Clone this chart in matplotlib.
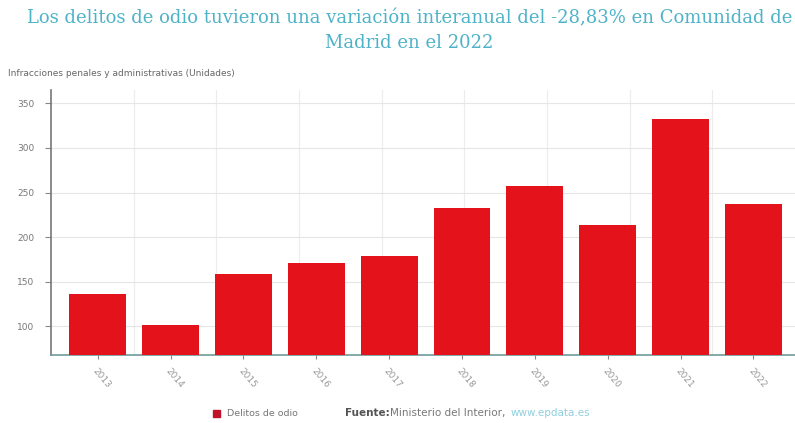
import matplotlib
matplotlib.use("Agg")
import matplotlib.pyplot as plt
import numpy as np

years = ["2013", "2014", "2015", "2016", "2017", "2018", "2019", "2020", "2021", "2022"]
values = [136, 102, 159, 171, 179, 233, 257, 214, 333, 237]
yticks = [100, 150, 200, 250, 300, 350]
series_name = "Delitos de odio"
title = "Los delitos de odio tuvieron una variación interanual del -28,83% en Comunidad de\nMadrid en el 2022"
ylabel = "Infracciones penales y administrativas (Unidades)"

plt.rcParams['font.family'] = ['DejaVu Sans']
fig = plt.figure(figsize=(7.95, 4.23), dpi=100)
ax = fig.add_axes([51/795, 68/423, 744/795, 265/423])

x = np.arange(len(years))
ax.bar(x, values, width=0.78, color="#e3121b", zorder=3)
ax.set_xlim(-0.64, 9.57)
ax.set_ylim(68, 365)
ax.set_yticks(yticks)
ax.set_yticklabels([str(v) for v in yticks], fontsize=6.5, color="#777777")
ax.set_xticks(x)
ax.set_xticklabels(years, rotation=-50, ha="left", va="top", fontsize=6.5, color="#999999",
                   rotation_mode="anchor")
ax.tick_params(axis="x", length=3, color="#888888", pad=5)
ax.tick_params(axis="y", length=4, color="#888888", pad=8)

ax.grid(axis="y", color="#e6e6e6", linewidth=0.8, zorder=0)
for f in np.linspace(0, 1, 10)[1:-1]:
    ax.axvline(f * (ax.get_xlim()[1] - ax.get_xlim()[0]) + ax.get_xlim()[0],
               color="#ececec", linewidth=0.8, zorder=0)

for s in ["top", "right"]:
    ax.spines[s].set_visible(False)
ax.spines["left"].set_color("#777777")
ax.spines["left"].set_linewidth(1.2)
ax.spines["bottom"].set_color("#6f9a9a")
ax.spines["bottom"].set_linewidth(1.2)

fig.text(0.515, 0.978, title, ha="center", va="top", fontsize=13, color="#4fb3c8",
         family="DejaVu Serif", linespacing=1.45)
fig.text(8/795, 1 - 73/423, ylabel, ha="left", va="center", fontsize=6.5, color="#666666")

# footer legend
fig.patches.append(matplotlib.patches.Rectangle((213/795, 1 - 417/423), 7/795, 7/423,
                   transform=fig.transFigure, color="#c0142a", figure=fig))
fig.text(227/795, 1 - 413/423, series_name, ha="left", va="center", fontsize=6.8, color="#777777")
fig.text(345/795, 1 - 413/423, "Fuente:", ha="left", va="center", fontsize=7.5,
         color="#555555", fontweight="bold")
fig.text(390/795, 1 - 413/423, "Ministerio del Interior,", ha="left", va="center",
         fontsize=7.5, color="#777777")
fig.text(511/795, 1 - 413/423, "www.epdata.es", ha="left", va="center", fontsize=7.5,
         color="#8fd0de")

fig.savefig("out.png", dpi=100)
